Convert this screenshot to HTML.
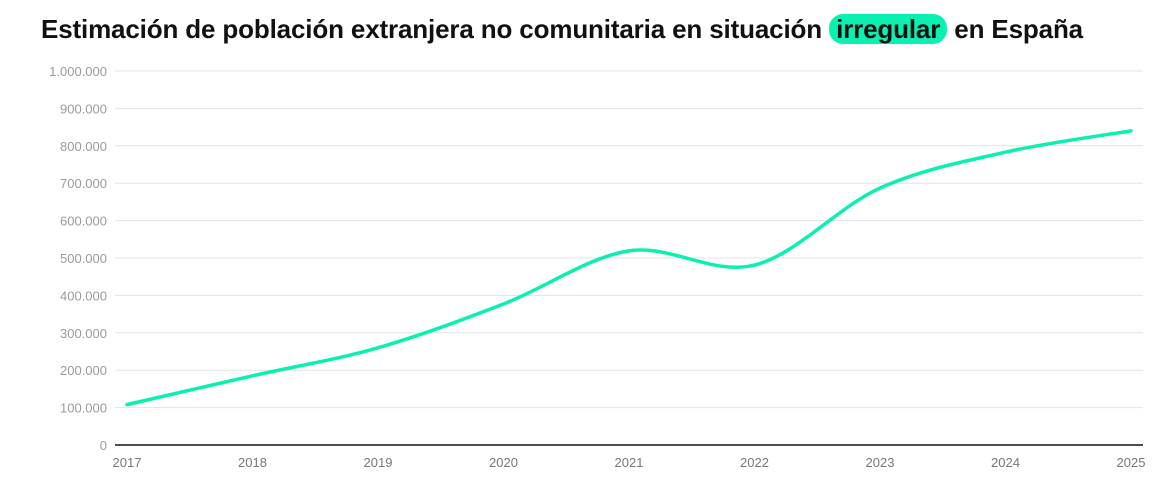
<!DOCTYPE html>
<html><head><meta charset="utf-8"><style>
body{margin:0;background:#fff;font-family:"Liberation Sans",sans-serif;}
#wrap{position:relative;width:1172px;height:489px;overflow:hidden;}
h1{position:absolute;left:41px;top:14px;margin:0;font-size:26px;font-weight:bold;color:#111;white-space:nowrap;letter-spacing:-0.15px;}
.hl{background:#0af0b0;border-radius:14px;padding:0 7px;}
</style></head><body>
<div id="wrap">
<h1>Estimación de población extranjera no comunitaria en situación <span class="hl">irregular</span> en España</h1>
<svg id="c" width="1172" height="489" style="position:absolute;left:0;top:0"></svg>
</div>
<script>
const years=["2017","2018","2019","2020","2021","2022","2023","2024","2025"];
const values=[108000,185000,260000,377000,519000,481000,687000,783000,840000];
const yTicks=[0,100000,200000,300000,400000,500000,600000,700000,800000,900000,1000000];
const yLabels=["0","100.000","200.000","300.000","400.000","500.000","600.000","700.000","800.000","900.000","1.000.000"];
const svg=document.getElementById('c');const NS="http://www.w3.org/2000/svg";
const x=i=>127+i*125.5;const y=v=>445-v*0.000374;
function mk(t,a){const e=document.createElementNS(NS,t);for(const k in a)e.setAttribute(k,a[k]);svg.appendChild(e);return e;}
yTicks.forEach((t,i)=>{
 const l=mk('line',{x1:115,x2:1143,y1:y(t),y2:y(t),stroke:i==0?'#111':'#e3e3e3','stroke-width':i==0?1.5:1});
 
 
 const tx=mk('text',{x:107,y:y(t)+5,'text-anchor':'end','font-size':13,fill:'#9a9a9a'});tx.textContent=yLabels[i];
 
 
});
years.forEach((yr,i)=>{
 const tx=mk('text',{x:x(i),y:467,'text-anchor':'middle','font-size':13,fill:'#777'});tx.textContent=yr;
 
 
});
const P=values.map((v,i)=>[x(i),y(v)]);
let d=`M${P[0][0]},${P[0][1]}`;
for(let i=0;i<P.length-1;i++){const p0=P[Math.max(i-1,0)],p1=P[i],p2=P[i+1],p3=P[Math.min(i+2,P.length-1)];
 d+=`C${p1[0]+(p2[0]-p0[0])/6},${p1[1]+(p2[1]-p0[1])/6} ${p2[0]-(p3[0]-p1[0])/6},${p2[1]-(p3[1]-p1[1])/6} ${p2[0]},${p2[1]}`;}
const path=mk('path',{d:d,fill:'none',stroke:'#0af0b0','stroke-width':3.5,'stroke-linecap':'round'});


</script>
</body></html>
